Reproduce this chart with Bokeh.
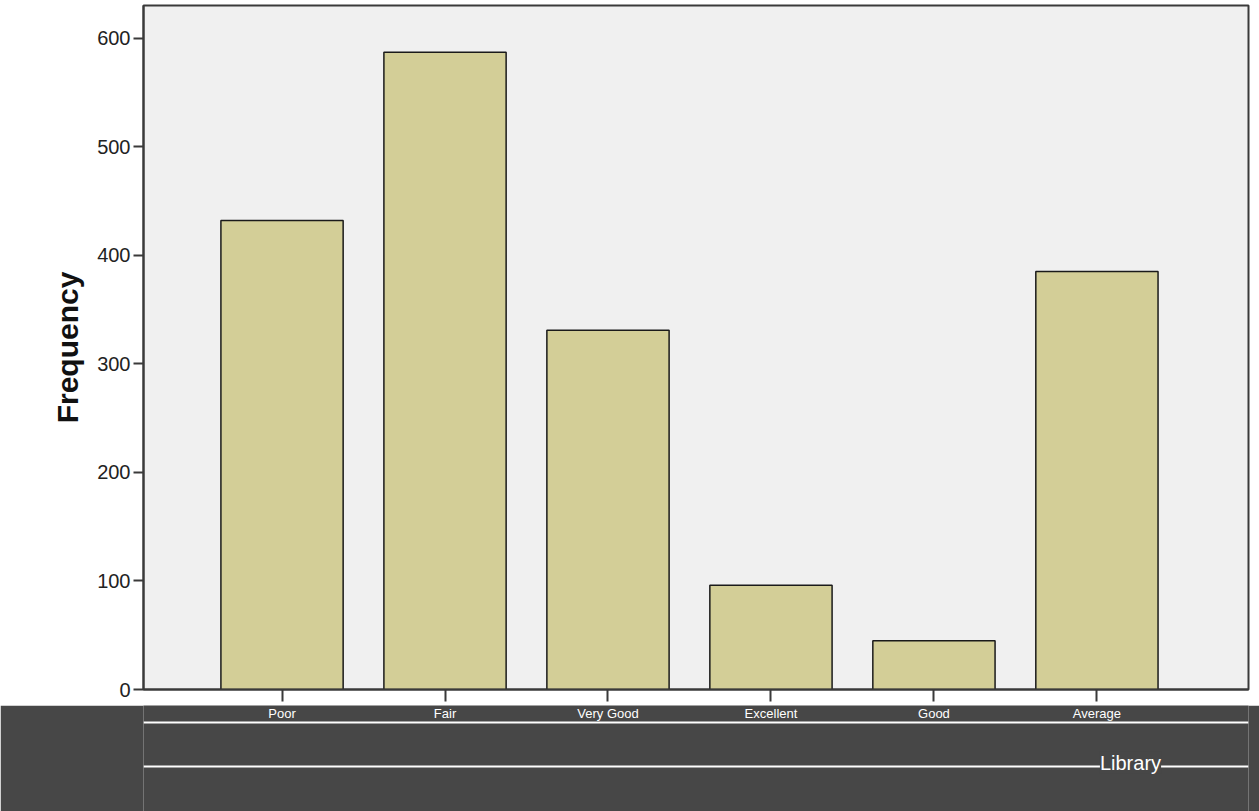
from bokeh.plotting import figure
from bokeh.models import Range1d, FixedTicker, Span, Label, ColumnDataSource
from bokeh.layouts import column
from bokeh.embed import file_html
from bokeh.resources import INLINE
from bokeh.core.properties import value

# ---- data ----
categories = ["Poor", "Fair", "Very Good", "Excellent", "Good", "Average"]
frequency = [432, 587, 331, 96, 45, 385]
y_ticks = [0, 100, 200, 300, 400, 500, 600]
x_title = "Library"
y_title = "Frequency"

positions = list(range(1, len(categories) + 1))
FONT = "Liberation Sans"
BAR = "#D3CE97"
DARK = "#474747"

W = 1259
MAIN_H = 705
BAND_H = 106
LEFT = 143
RIGHT = 11

x_range = Range1d(0.15, 6.93)
p = figure(width=W, height=MAIN_H, output_backend="svg", toolbar_location=None,
           x_range=x_range, y_range=Range1d(0, 630),
           min_border_left=LEFT, min_border_right=RIGHT, min_border_top=5,
           min_border_bottom=16)
p.background_fill_color = "#F0F0F0"
p.border_fill_color = "white"
p.outline_line_color = "#3a3a3a"
p.outline_line_width = 2
p.grid.visible = False

src = ColumnDataSource(dict(x=positions, top=frequency, cat=categories))
p.vbar(x="x", top="top", bottom=0, width=0.75, source=src,
       fill_color=BAR, line_color="#1a1a1a", line_width=1.5)

ya = p.yaxis[0]
ya.ticker = FixedTicker(ticks=y_ticks)
ya.minor_tick_line_color = None
ya.major_tick_in = 0
ya.major_tick_out = 10
ya.major_tick_line_width = 2
ya.major_tick_line_color = "#3a3a3a"
ya.axis_line_color = "#3a3a3a"
ya.axis_line_width = 2
ya.major_label_standoff = 3
ya.major_label_text_font = FONT
ya.major_label_text_font_size = "20px"
ya.major_label_text_color = "#222222"
ya.axis_label = y_title
ya.axis_label_text_font = FONT
ya.axis_label_text_font_style = "bold"
ya.axis_label_text_font_size = "30px"
ya.axis_label_text_color = "#111111"
ya.axis_label_standoff = 10

xa = p.xaxis[0]
xa.ticker = FixedTicker(ticks=positions)
xa.major_label_overrides = {i: "" for i in positions}
xa.minor_tick_line_color = None
xa.major_tick_in = 0
xa.major_tick_out = 12
xa.major_tick_line_width = 2
xa.major_tick_line_color = "#3a3a3a"
xa.axis_line_color = "#3a3a3a"
xa.axis_line_width = 2
xa.major_label_text_font_size = "1px"
xa.major_label_standoff = 0

# ---- lower band with category labels and axis title ----
b = figure(width=W, height=BAND_H, output_backend="svg", toolbar_location=None,
           x_range=x_range, y_range=Range1d(0, BAND_H),
           x_axis_location=None, y_axis_location=None,
           min_border_left=LEFT, min_border_right=RIGHT,
           min_border_top=0, min_border_bottom=0)
b.background_fill_color = DARK
b.border_fill_color = DARK
b.outline_line_color = None
b.grid.visible = False
b.add_layout(Span(location=BAND_H - 17, dimension="width", line_color="white", line_width=2))
b.add_layout(Span(location=BAND_H - 61, dimension="width", line_color="white", line_width=2))
b.text(x="x", y=BAND_H - 8, text="cat", source=src, text_color="white",
       text_font=value(FONT), text_font_size="13px", text_align="center",
       text_baseline="middle")
b.add_layout(Label(x=1130 - LEFT, y=BAND_H - 57, x_units="screen", y_units="screen",
                   text=x_title, text_color="white", text_font=FONT,
                   text_font_size="20px", text_align="center", text_baseline="middle",
                   background_fill_color=DARK))

layout = column(p, b, spacing=0)
open("out.html", "w").write(file_html(layout, INLINE))
